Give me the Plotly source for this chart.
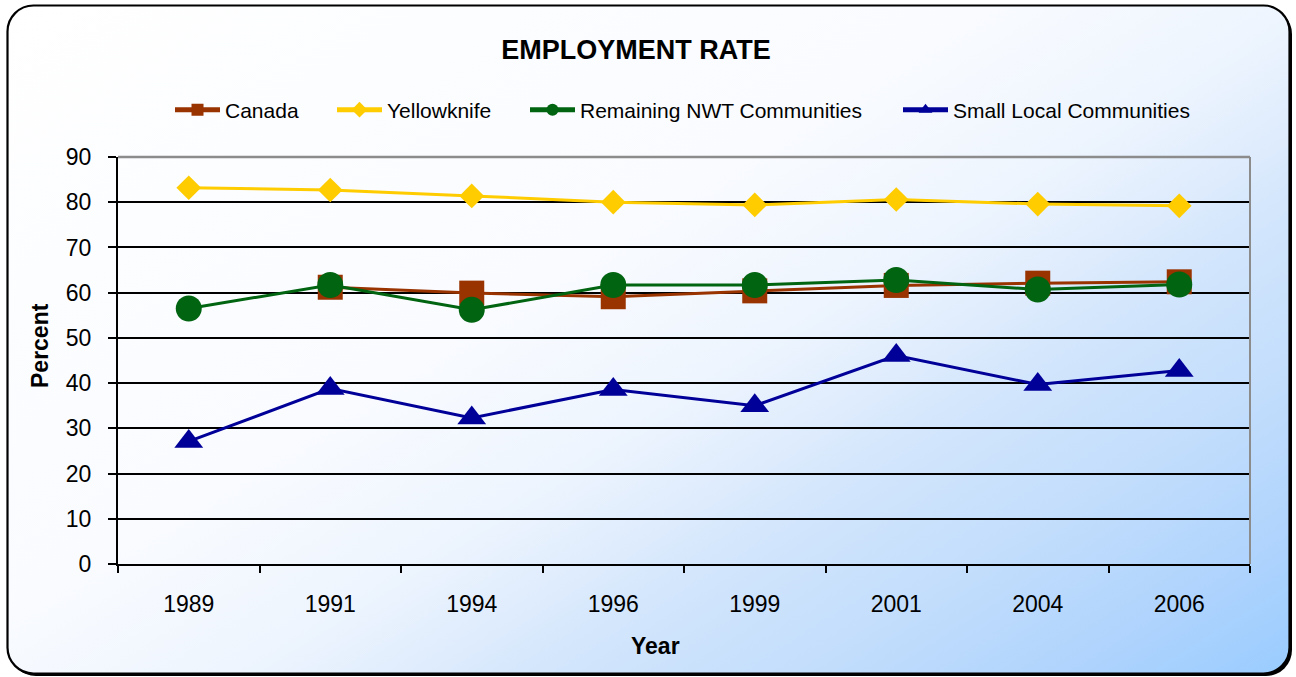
import base64
import plotly.graph_objects as go

# ---------------- data ----------------
years = ["1989", "1991", "1994", "1996", "1999", "2001", "2004", "2006"]
canada = [None, 61.2, 59.9, 59.1, 60.4, 61.6, 62.1, 62.4]
yellowknife = [83.2, 82.7, 81.4, 80.0, 79.4, 80.6, 79.6, 79.2]
remaining_nwt = [56.5, 61.7, 56.2, 61.7, 61.7, 62.8, 60.7, 61.8]
small_local = [27.1, 38.8, 32.3, 38.6, 35.0, 46.1, 39.7, 42.8]
y_ticks = [0, 10, 20, 30, 40, 50, 60, 70, 80, 90]

series_names = ["Canada", "Yellowknife", "Remaining NWT Communities", "Small Local Communities"]
series_values = [canada, yellowknife, remaining_nwt, small_local]

# ---------------- styles ----------------
W, H = 1296, 677
ML, MR, MT, MB = 118, 46, 157, 113
PW, PH = W - ML - MR, H - MT - MB
FONT = "Liberation Sans, Arial, sans-serif"

colors = ["#993300", "#FFCC00", "#006411", "#000099"]
symbols = ["square", "diamond", "circle", "triangle-up"]
sizes = [25, 19, 26, 25]
legend_ids = ["legend", "legend2", "legend3", "legend4"]
legend_text_x = [222, 384, 577, 950]  # pixel where legend text starts


def px_x(p):
    return (p - ML) / PW


def px_y(p):
    return (H - MB - p) / PH


# background: rounded frame with diagonal gradient and shadow
svg = f'''<svg xmlns="http://www.w3.org/2000/svg" width="{W}" height="{H}" viewBox="0 0 {W} {H}">
<defs><linearGradient id="g" gradientUnits="userSpaceOnUse" x1="0" y1="0" x2="666" y2="1065">
<stop offset="0" stop-color="#ffffff"/>
<stop offset="0.42" stop-color="#f9fbff"/>
<stop offset="0.55" stop-color="#eef5fe"/>
<stop offset="0.63" stop-color="#dfecfd"/>
<stop offset="0.68" stop-color="#d3e6fc"/>
<stop offset="0.80" stop-color="#c2ddfc"/>
<stop offset="0.91" stop-color="#aed3fd"/>
<stop offset="1" stop-color="#99ccff"/>
</linearGradient></defs>
<rect x="10" y="8" width="1282" height="668" rx="26" ry="26" fill="#000000"/>
<rect x="7.5" y="5.5" width="1282" height="668" rx="26" ry="26" fill="url(#g)" stroke="#000000" stroke-width="2.2"/>
</svg>'''
src = "data:image/svg+xml;base64," + base64.b64encode(svg.encode()).decode()

fig = go.Figure()
for name, vals, c, s, sz, lg in zip(series_names, series_values, colors, symbols, sizes, legend_ids):
    fig.add_trace(go.Scatter(
        x=years, y=vals, name=name, mode="lines+markers",
        line=dict(color=c, width=3),
        marker=dict(symbol=s, size=sz, color=c, line=dict(width=0)),
        legend=lg, connectgaps=False, cliponaxis=False,
    ))

legend_common = dict(
    orientation="h", xanchor="left", yanchor="middle", y=px_y(110),
    bgcolor="rgba(0,0,0,0)", borderwidth=0, itemsizing="constant",
    font=dict(family=FONT, size=21, color="#000000"), itemwidth=45,
)
legends = {}
for lg, tx in zip(legend_ids, legend_text_x):
    legends[lg] = dict(legend_common, x=px_x(tx - 52))

fig.update_layout(
    width=W, height=H,
    margin=dict(l=ML, r=MR, t=MT, b=MB, pad=0),
    paper_bgcolor="#ffffff",
    plot_bgcolor="rgba(0,0,0,0)",
    font=dict(family=FONT, color="#000000"),
    title=dict(text="<b>EMPLOYMENT RATE</b>", x=636 / W, xanchor="center",
               y=1 - 50 / H, yanchor="middle", xref="container", yref="container",
               font=dict(family=FONT, size=27, color="#000000")),
    showlegend=True,
    images=[dict(source=src, xref="paper", yref="paper",
                 x=-ML / PW, y=1 + MT / PH, sizex=W / PW, sizey=H / PH,
                 xanchor="left", yanchor="top", sizing="stretch", layer="below")],
    **legends,
)

fig.update_xaxes(
    type="category", range=[-0.5, len(years) - 0.5],
    showline=True, linecolor="#000000", linewidth=2,
    ticks="outside", tickson="boundaries", ticklen=7, tickwidth=1.5, tickcolor="#000000",
    showgrid=False, zeroline=False, ticklabelstandoff=18,
    tickfont=dict(family=FONT, size=23, color="#000000"),
)
fig.update_yaxes(
    range=[0, 90], tickvals=y_ticks,
    showline=True, linecolor="#000000", linewidth=2,
    ticks="outside", ticklen=8, tickwidth=1.5, tickcolor="#000000",
    showgrid=True, gridcolor="#000000", gridwidth=1.5, zeroline=False,
    ticklabelstandoff=12,
    tickfont=dict(family=FONT, size=23, color="#000000"),
)

# gray top/right border of plot area
fig.add_shape(type="line", xref="paper", yref="paper", x0=0, x1=1, y0=1, y1=1,
              line=dict(color="#8c8c8c", width=2.5), layer="above")
fig.add_shape(type="line", xref="paper", yref="paper", x0=1, x1=1, y0=0, y1=1,
              line=dict(color="#8c8c8c", width=2), layer="above")

fig.add_annotation(text="<b>Year</b>", xref="paper", yref="paper",
                   x=px_x(655), y=px_y(646), xanchor="center", yanchor="middle",
                   showarrow=False, font=dict(family=FONT, size=23, color="#000000"))
fig.add_annotation(text="<b>Percent</b>", xref="paper", yref="paper",
                   x=px_x(40), y=px_y(346), xanchor="center", yanchor="middle",
                   textangle=-90, showarrow=False,
                   font=dict(family=FONT, size=23, color="#000000"))

fig.write_html("out.html", config={"displayModeBar": False},
               post_script="document.body.style.margin='0';document.body.style.overflow='hidden';")
